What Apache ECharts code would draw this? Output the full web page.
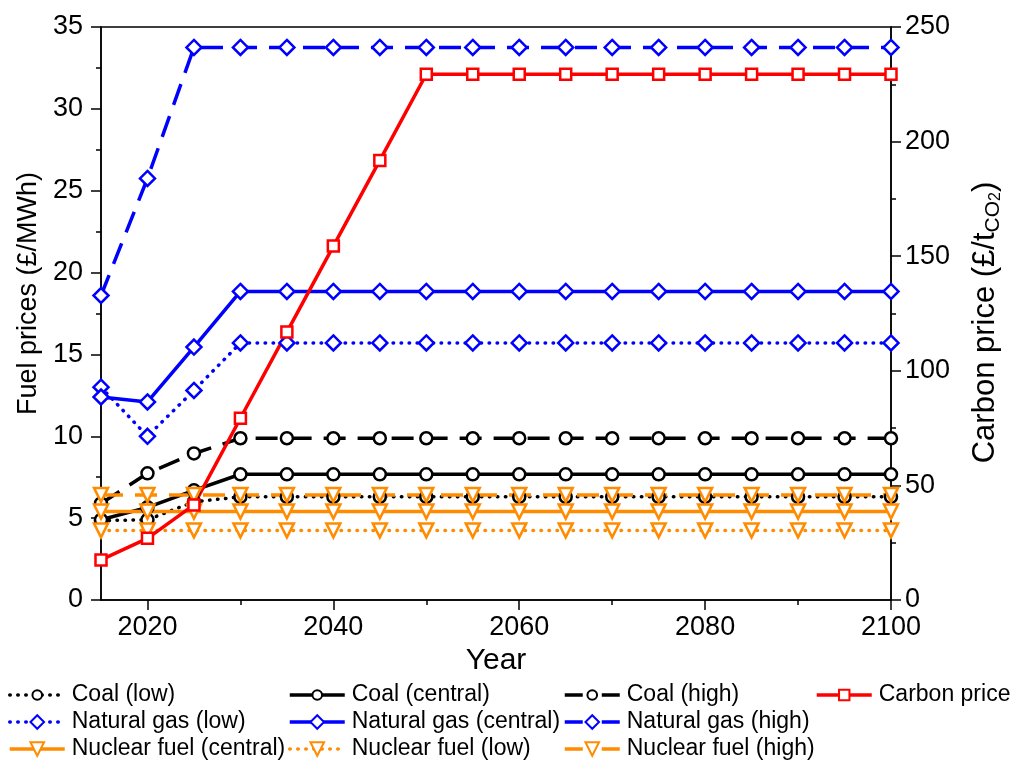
<!DOCTYPE html>
<html>
<head>
<meta charset="utf-8">
<script src="https://cdn.jsdelivr.net/npm/echarts@6/dist/echarts.min.js"></script>
<style>html,body{margin:0;padding:0;background:#fff}#c{width:1010px;height:764px}</style>
</head>
<body>
<div id="c"></div>
<script>
const years = ['2015','2020','2025','2030','2035','2040','2045','2050','2055','2060','2065','2070','2075','2080','2085','2090','2095','2100'];
const coalLow     = [4.85, 4.9, 6.0, 6.3, 6.3, 6.3, 6.3, 6.3, 6.3, 6.3, 6.3, 6.3, 6.3, 6.3, 6.3, 6.3, 6.3, 6.3];
const coalCentral = [4.9, 5.66, 6.7, 7.68, 7.68, 7.68, 7.68, 7.68, 7.68, 7.68, 7.68, 7.68, 7.68, 7.68, 7.68, 7.68, 7.68, 7.68];
const coalHigh    = [5.9, 7.74, 8.95, 9.88, 9.88, 9.88, 9.88, 9.88, 9.88, 9.88, 9.88, 9.88, 9.88, 9.88, 9.88, 9.88, 9.88, 9.88];
const gasLow      = [13.0, 10.0, 12.8, 15.7, 15.7, 15.7, 15.7, 15.7, 15.7, 15.7, 15.7, 15.7, 15.7, 15.7, 15.7, 15.7, 15.7, 15.7];
const gasCentral  = [12.4, 12.1, 15.45, 18.85, 18.85, 18.85, 18.85, 18.85, 18.85, 18.85, 18.85, 18.85, 18.85, 18.85, 18.85, 18.85, 18.85, 18.85];
const gasHigh     = [18.6, 25.75, 33.75, 33.75, 33.75, 33.75, 33.75, 33.75, 33.75, 33.75, 33.75, 33.75, 33.75, 33.75, 33.75, 33.75, 33.75, 33.75];
const nucCentral  = [5.4, 5.4, 5.4, 5.4, 5.4, 5.4, 5.4, 5.4, 5.4, 5.4, 5.4, 5.4, 5.4, 5.4, 5.4, 5.4, 5.4, 5.4];
const nucLow      = [4.25, 4.25, 4.25, 4.25, 4.25, 4.25, 4.25, 4.25, 4.25, 4.25, 4.25, 4.25, 4.25, 4.25, 4.25, 4.25, 4.25, 4.25];
const nucHigh     = [6.42, 6.42, 6.42, 6.42, 6.42, 6.42, 6.42, 6.42, 6.42, 6.42, 6.42, 6.42, 6.42, 6.42, 6.42, 6.42, 6.42, 6.42];
const carbon      = [17.5, 26.9, 41.5, 79.3, 116.9, 154.4, 191.8, 229.4, 229.4, 229.4, 229.4, 229.4, 229.4, 229.4, 229.4, 229.4, 229.4, 229.4];

const FONT = 'Liberation Sans, Arial, sans-serif';
const BLACK = '#000', BLUE = '#0000ff', ORANGE = '#ff8c00', RED = '#ff0000';
const DOT = [0.5, 7.5], DASH = [22, 12], LDASH = [18, 19];

function mk(name, data, color, symbol, size, dash, yIdx, rotate) {
  return {
    name, type: 'line', data, yAxisIndex: yIdx || 0,
    symbol, symbolSize: size, symbolRotate: rotate || 0, showAllSymbol: true,
    lineStyle: {color, width: 3.5, type: dash || 'solid', cap: dash === DOT ? 'round' : 'butt'},
    itemStyle: {color: '#fff', borderColor: color, borderWidth: 2.5},
    emphasis: {disabled: true}, animation: false
  };
}
const series = [
  mk('Coal (low)', coalLow, BLACK, 'circle', 12, DOT),
  mk('Coal (central)', coalCentral, BLACK, 'circle', 12),
  mk('Coal (high)', coalHigh, BLACK, 'circle', 12, DASH),
  mk('Nuclear fuel (central)', nucCentral, ORANGE, 'triangle', 14, null, 0, 180),
  mk('Nuclear fuel (low)', nucLow, ORANGE, 'triangle', 14, DOT, 0, 180),
  mk('Nuclear fuel (high)', nucHigh, ORANGE, 'triangle', 14, DASH, 0, 180),
  mk('Natural gas (low)', gasLow, BLUE, 'diamond', 15, DOT),
  mk('Natural gas (central)', gasCentral, BLUE, 'diamond', 15),
  mk('Natural gas (high)', gasHigh, BLUE, 'diamond', 15, DASH),
  mk('Carbon price', carbon, RED, 'rect', 11, null, 1)
];

// [name, left, rowCenterY, itemHeight, legend line type]
const legendPos = [
  ['Coal (low)', 8, 693, 12, DOT], ['Coal (central)', 288, 693, 12, 'solid'], ['Coal (high)', 563, 693, 12, LDASH], ['Carbon price', 815, 693, 13, 'solid'],
  ['Natural gas (low)', 8, 720, 17, DOT], ['Natural gas (central)', 288, 720, 17, 'solid'], ['Natural gas (high)', 563, 720, 17, LDASH],
  ['Nuclear fuel (central)', 8, 747, 17, 'solid'], ['Nuclear fuel (low)', 288, 747, 17, DOT], ['Nuclear fuel (high)', 563, 747, 17, LDASH]
];
const legends = legendPos.map(([n, x, y, h, t]) => ({
  data: [n], left: x, top: y - 10, padding: 0, itemWidth: 55, itemHeight: h, itemGap: 0,
  selectedMode: false,
  lineStyle: {type: t, width: 3.5, cap: t === DOT ? 'round' : 'butt'},
  textStyle: {fontFamily: FONT, fontSize: 23, color: '#000', lineHeight: 24, padding: [0,0,0,2]}
}));

const chart = echarts.init(document.getElementById('c'), null, {renderer: 'canvas'});
chart.setOption({
  animation: false,
  backgroundColor: '#fff',
  grid: {left: 101, right: 119, top: 27, bottom: 164, outerBoundsMode: 'none', containLabel: false,
    show: true, borderColor: '#000', borderWidth: 1.5, backgroundColor: 'transparent'},
  legend: legends,
  xAxis: [{
    type: 'category', data: years, boundaryGap: false,
    name: 'Year', nameLocation: 'middle', nameGap: 46,
    nameTextStyle: {fontFamily: FONT, fontSize: 30, color: '#000'},
    axisLine: {lineStyle: {color: '#000', width: 1.5}},
    axisTick: {show: true, length: 5, interval: (i) => i % 2 === 1, lineStyle: {color: '#000', width: 1.5}},
    axisLabel: {interval: (i) => (i - 1) % 4 === 0, fontFamily: FONT, fontSize: 27, color: '#000', margin: 14},
    splitLine: {show: false}
  }, {
    type: 'category', data: years, boundaryGap: false, position: 'bottom', offset: 0,
    axisLine: {show: false},
    axisTick: {show: true, length: 10, interval: (i) => (i - 1) % 4 === 0, lineStyle: {color: '#000', width: 1.5}},
    axisLabel: {show: false}, splitLine: {show: false}
  }],
  yAxis: [{
    type: 'value', min: 0, max: 35, interval: 5,
    name: 'Fuel prices (£/MWh)', nameLocation: 'middle', nameGap: 58, nameRotate: 90,
    nameTextStyle: {fontFamily: FONT, fontSize: 27, color: '#000', padding: [0, 0, 0, 40]},
    axisLine: {show: true, lineStyle: {color: '#000', width: 1.5}},
    axisTick: {show: true, length: 10, lineStyle: {color: '#000', width: 1.5}},
    minorTick: {show: true, splitNumber: 2, length: 5, lineStyle: {color: '#000', width: 1.5}},
    axisLabel: {fontFamily: FONT, fontSize: 27, color: '#000', margin: 18},
    splitLine: {show: false}
  }, {
    type: 'value', min: 0, max: 250, interval: 50, position: 'right',
    name: '{a|Carbon price (£/t}{s|CO}{t|2}{a|)}', nameLocation: 'middle', nameGap: 75, nameRotate: 90,
    nameTextStyle: {fontFamily: FONT, fontSize: 30, color: '#000', padding: [0, 18, 0, 0],
      rich: {
        a: {fontFamily: FONT, fontSize: 31, color: '#000', lineHeight: 38},
        s: {fontFamily: FONT, fontSize: 21, color: '#000', lineHeight: 19, verticalAlign: 'bottom'},
        t: {fontFamily: FONT, fontSize: 16, color: '#000', lineHeight: 15, verticalAlign: 'bottom'}
      }},
    axisLine: {show: true, lineStyle: {color: '#000', width: 1.5}},
    axisTick: {show: true, length: 10, lineStyle: {color: '#000', width: 1.5}},
    minorTick: {show: true, splitNumber: 2, length: 5, lineStyle: {color: '#000', width: 1.5}},
    axisLabel: {fontFamily: FONT, fontSize: 27, color: '#000', margin: 14},
    splitLine: {show: false}
  }],
  series
});
</script>
</body>
</html>
